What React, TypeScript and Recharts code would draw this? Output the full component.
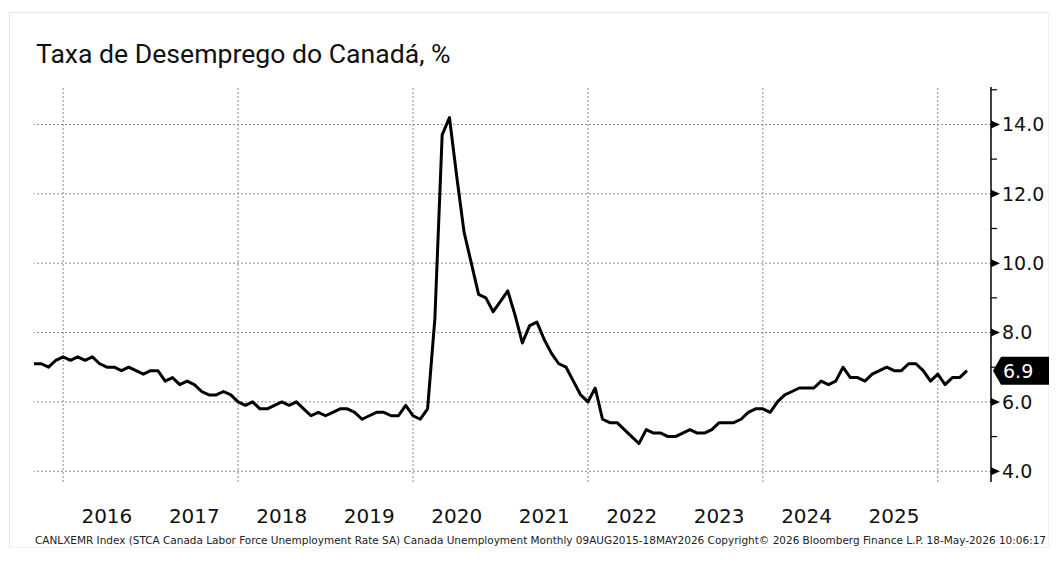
import React from 'react';
import { LineChart, Line, XAxis, YAxis, ReferenceLine, ReferenceDot } from 'recharts';

// Canada unemployment rate, monthly, Aug 2015 – Apr 2026
const START_YEAR = 2015;
const START_MONTH = 8;
const rates: number[] = [
  // 2015 Aug-Dec
  7.1, 7.1, 7.0, 7.2, 7.3,
  // 2016
  7.2, 7.3, 7.2, 7.3, 7.1, 7.0, 7.0, 6.9, 7.0, 6.9, 6.8, 6.9,
  // 2017
  6.9, 6.6, 6.7, 6.5, 6.6, 6.5, 6.3, 6.2, 6.2, 6.3, 6.2, 6.0,
  // 2018
  5.9, 6.0, 5.8, 5.8, 5.9, 6.0, 5.9, 6.0, 5.8, 5.6, 5.7, 5.6,
  // 2019
  5.7, 5.8, 5.8, 5.7, 5.5, 5.6, 5.7, 5.7, 5.6, 5.6, 5.9, 5.6,
  // 2020
  5.5, 5.8, 8.4, 13.7, 14.2, 12.5, 10.9, 10.0, 9.1, 9.0, 8.6, 8.9,
  // 2021
  9.2, 8.5, 7.7, 8.2, 8.3, 7.8, 7.4, 7.1, 7.0, 6.6, 6.2, 6.0,
  // 2022
  6.4, 5.5, 5.4, 5.4, 5.2, 5.0, 4.8, 5.2, 5.1, 5.1, 5.0, 5.0,
  // 2023
  5.1, 5.2, 5.1, 5.1, 5.2, 5.4, 5.4, 5.4, 5.5, 5.7, 5.8, 5.8,
  // 2024
  5.7, 6.0, 6.2, 6.3, 6.4, 6.4, 6.4, 6.6, 6.5, 6.6, 7.0, 6.7,
  // 2025
  6.7, 6.6, 6.8, 6.9, 7.0, 6.9, 6.9, 7.1, 7.1, 6.9, 6.6, 6.8,
  // 2026 Jan-Apr
  6.5, 6.7, 6.7, 6.9,
];

const yearLabels: string[] = ['2016', '2017', '2018', '2019', '2020', '2021', '2022', '2023', '2024', '2025'];
const gridYears: number[] = [2016, 2018, 2020, 2022, 2024, 2026];
const yTicks: number[] = [4, 5, 6, 7, 8, 9, 10, 11, 12, 13, 14, 15];
const yGrid: number[] = [4, 6, 8, 10, 12, 14];

const TITLE = 'Taxa de Desemprego do Canadá, %';
const FOOTER =
  'CANLXEMR Index (STCA Canada Labor Force Unemployment Rate SA) Canada Unemployment Monthly 09AUG2015-18MAY2026 Copyright\u00A9 2026 Bloomberg Finance L.P.  18-May-2026 10:06:17';

// months since Jan 2016, plotted at end of month (Bloomberg convention)
const monthPos = (year: number, month: number) => (year - 2016) * 12 + month;

const data = rates.map((rate, i) => {
  const k = START_MONTH - 1 + i;
  const year = START_YEAR + Math.floor(k / 12);
  const month = (k % 12) + 1;
  return { date: `${year}-${String(month).padStart(2, '0')}`, t: monthPos(year, month), rate };
});
const last = data[data.length - 1];

const W = 1061;
const H = 568;
const AXIS_X = 991;

const XTick = (props: any) => {
  const { x, payload } = props;
  const yr = 2016 + Math.round((payload.value - 6) / 12);
  return (
    <text x={x} y={523} textAnchor="middle" fontSize={20} fontFamily="DejaVu Sans" fill="#111">
      {String(yr)}
    </text>
  );
};

const YTick = (props: any) => {
  const { y, payload } = props;
  const v = payload.value as number;
  if (v % 2 === 1) {
    return <line x1={AXIS_X} x2={AXIS_X + 6} y1={y} y2={y} stroke="#000" strokeWidth={1.2} />;
  }
  return (
    <g>
      <path d={`M${AXIS_X},${y - 4} L${AXIS_X + 9},${y} L${AXIS_X},${y + 4} Z`} fill="#000" />
      <text x={AXIS_X + 11} y={y} dy="0.36em" fontSize={19} fontFamily="DejaVu Sans" fill="#111">
        {v.toFixed(1)}
      </text>
    </g>
  );
};

const LastTag = (props: any) => {
  const { cy } = props;
  if (cy == null) return null;
  const x0 = AXIS_X + 2;
  return (
    <g>
      <path
        d={`M${x0},${cy} L${x0 + 8},${cy - 14} L1049,${cy - 14} L1049,${cy + 14} L${x0 + 8},${cy + 14} Z`}
        fill="#000"
      />
      <text x={x0 + 10} y={cy} dy="0.36em" fontSize={19} fontFamily="DejaVu Sans" fill="#fff">
        {last.rate.toFixed(1)}
      </text>
    </g>
  );
};

export default function App() {
  return (
    <div style={{ position: 'absolute', left: 0, top: 0, width: W, height: H, background: '#fff' }}>
      <div
        style={{
          position: 'absolute',
          left: 9,
          top: 12,
          width: 1040,
          height: 536,
          borderTop: '1.5px solid #e4e4e4',
          borderLeft: '1.5px solid #e4e4e4',
          borderRight: '1px solid #f2f2f2',
          borderBottom: '1px solid #f2f2f2',
          boxSizing: 'border-box',
        }}
      />
      <svg width={W} height={H} style={{ position: 'absolute', left: 0, top: 0 }}>
        <text x={36} y={63} fontSize={26.6} fontFamily="Roboto" fill="#111">
          {TITLE}
        </text>
        <text
          x={35}
          y={544}
          fontSize={10.5}
          fontFamily="DejaVu Sans Condensed"
          fill="#222"
          textLength={1011}
          lengthAdjust="spacingAndGlyphs"
        >
          {FOOTER}
        </text>
      </svg>
      <div style={{ position: 'absolute', left: 0, top: 0 }}>
        <LineChart width={W} height={H} data={data} margin={{ top: 87, right: 10, bottom: 46, left: 34 }}>
          <XAxis
            dataKey="t"
            type="number"
            domain={[-4, 127.3]}
            ticks={yearLabels.map((y) => monthPos(Number(y), 6))}
            tick={<XTick />}
            axisLine={false}
            tickLine={false}
            height={40}
            allowDataOverflow
          />
          <YAxis
            orientation="right"
            type="number"
            domain={[3.69, 15.08]}
            ticks={yTicks}
            tick={<YTick />}
            tickLine={false}
            axisLine={{ stroke: '#000', strokeWidth: 1.5 }}
            width={60}
            interval={0}
            allowDataOverflow
          />
          {yGrid.map((v) => (
            <ReferenceLine key={`h${v}`} y={v} stroke="#8a8a8a" strokeDasharray="2 2" strokeWidth={1} />
          ))}
          {gridYears.map((y) => (
            <ReferenceLine
              key={`v${y}`}
              x={monthPos(y, 0)}
              stroke="#8a8a8a"
              strokeDasharray="2 2"
              strokeWidth={1}
            />
          ))}
          <Line
            type="linear"
            dataKey="rate"
            stroke="#000"
            strokeWidth={3}
            dot={false}
            isAnimationActive={false}
            strokeLinejoin="round"
          />
          <ReferenceDot x={last.t} y={last.rate} ifOverflow="visible" shape={<LastTag />} />
        </LineChart>
      </div>
    </div>
  );
}
